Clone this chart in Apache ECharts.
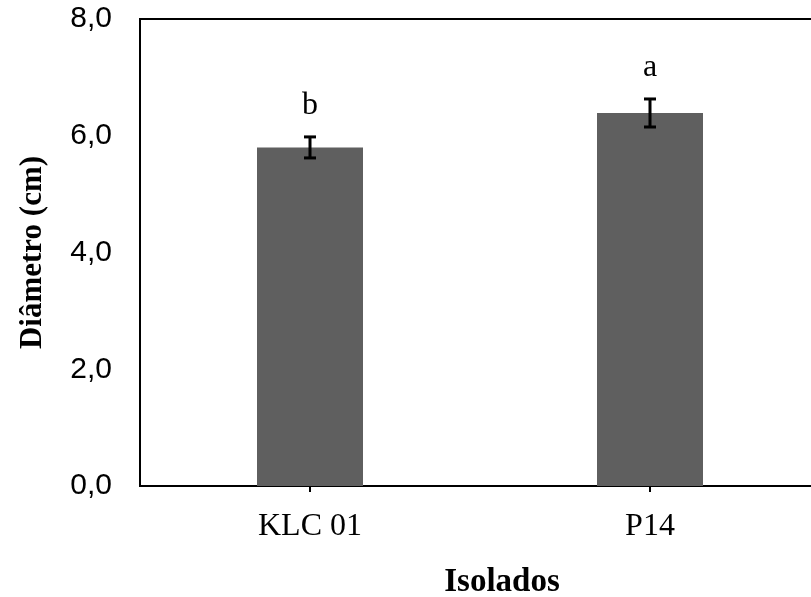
<!DOCTYPE html>
<html>
<head>
<meta charset="utf-8">
<script src="https://cdn.jsdelivr.net/npm/echarts@6/dist/echarts.min.js"></script>
<style>html,body{margin:0;padding:0;background:#fff;}#c{width:811px;height:597px;}</style>
</head>
<body>
<div id="c"></div>
<script>
const categories = ['KLC 01', 'P14'];
const means = [5.80, 6.39];
const errors = [0.18, 0.24];
const letters = ['b', 'a'];
const yTicks = [0, 2, 4, 6, 8];

const chart = echarts.init(document.getElementById('c'), null, {renderer: 'canvas'});
const serif = 'Liberation Serif, Times New Roman, serif';
const sans = 'Liberation Sans, Arial, sans-serif';

chart.setOption({
  animation: false,
  grid: {left: 140, top: 19, width: 680, height: 467, show: true, borderColor: '#000', borderWidth: 2,
    containLabel: false, outerBoundsMode: 'none'},
  xAxis: {
    type: 'category',
    data: categories,
    name: 'Isolados',
    nameLocation: 'middle',
    nameGap: 80,
    nameTextStyle: {fontFamily: serif, fontSize: 33, fontWeight: 'bold', color: '#000', padding: [0, 0, 0, 44]},
    axisLine: {show: true, lineStyle: {color: '#000', width: 2}},
    axisTick: {show: true, alignWithLabel: true, length: 6, lineStyle: {color: '#000', width: 2}},
    axisLabel: {fontFamily: serif, fontSize: 32, color: '#000', margin: 25}
  },
  yAxis: {
    type: 'value',
    min: yTicks[0],
    max: yTicks[yTicks.length - 1],
    interval: 2,
    name: 'Diâmetro (cm)',
    nameLocation: 'middle',
    nameGap: 92,
    nameTextStyle: {fontFamily: serif, fontSize: 31, fontWeight: 'bold', color: '#000'},
    axisLine: {show: true, lineStyle: {color: '#000', width: 2}},
    axisTick: {show: false},
    splitLine: {show: false},
    axisLabel: {fontFamily: sans, fontSize: 30, color: '#000', margin: 28,
      formatter: v => v.toFixed(1).replace('.', ',')}
  },
  series: [
    {
      type: 'bar',
      data: means,
      barWidth: 106,
      itemStyle: {color: '#5f5f5f'}
    },
    {
      type: 'custom',
      data: means.map((m, i) => [i, m, errors[i]]),
      z: 10,
      renderItem: function (params, api) {
        const i = api.value(0), m = api.value(1), e = api.value(2);
        const top = api.coord([i, m + e]);
        const bot = api.coord([i, m - e]);
        const x = top[0];
        const cap = 6;
        const ls = {stroke: '#000', lineWidth: 3};
        return {
          type: 'group',
          children: [
            {type: 'line', shape: {x1: x, y1: top[1], x2: x, y2: bot[1]}, style: ls},
            {type: 'line', shape: {x1: x - cap, y1: top[1], x2: x + cap, y2: top[1]}, style: ls},
            {type: 'line', shape: {x1: x - cap, y1: bot[1], x2: x + cap, y2: bot[1]}, style: ls},
            {type: 'text', x: x, y: top[1] - 31, style: {text: letters[params.dataIndex], fill: '#000',
              font: '32px ' + serif, align: 'center', verticalAlign: 'middle'}}
          ]
        };
      }
    }
  ]
});
</script>
</body>
</html>
